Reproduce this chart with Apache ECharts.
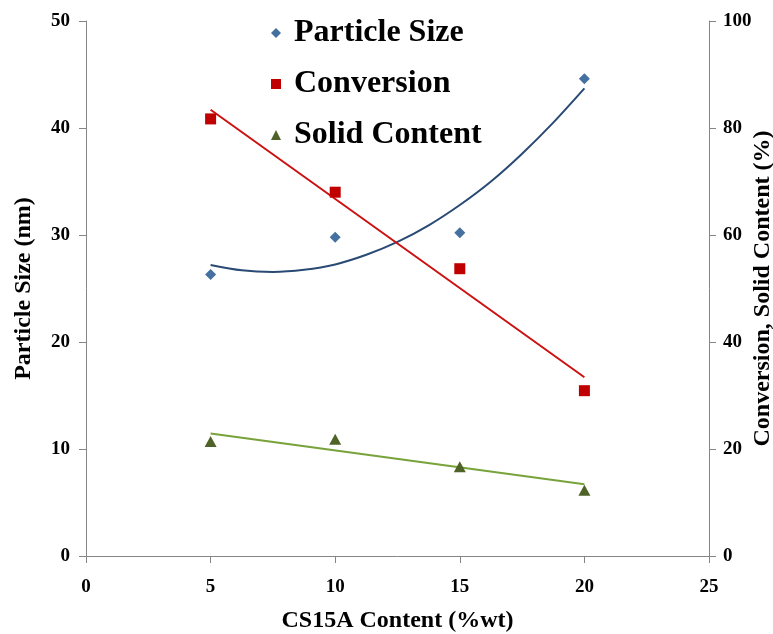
<!DOCTYPE html>
<html>
<head>
<meta charset="utf-8">
<script src="https://cdn.jsdelivr.net/npm/echarts@6/dist/echarts.min.js"></script>
<style>html,body{margin:0;padding:0;background:#fff}#c{width:773px;height:634px}</style>
</head>
<body>
<div id="c"></div>
<script>
// Data
const xValues = [5, 10, 15, 20];
const particleSize = [26.3, 29.8, 30.2, 44.6];      // nm, left axis
const conversion = [81.7, 68.0, 53.7, 30.9];         // %, right axis
const solidContent = [21.4, 21.8, 16.7, 12.3];       // %, right axis

// Trend lines as drawn in the picture
const particleTrendX = [5, 6.25, 7.5, 8.75, 10, 11.25, 12.5, 13.75, 15, 16.25, 17.5, 18.75, 20];
const particleTrendY = [27.2, 26.7, 26.55, 26.75, 27.25, 28.15, 29.35, 30.9, 32.8, 35.0, 37.6, 40.5, 43.7];
const conversionTrendX = [5, 20];
const conversionTrendY = [83.4, 33.4];
const solidTrendX = [5, 20];
const solidTrendY = [22.9, 13.4];

const xTicks = [0, 5, 10, 15, 20, 25];

const FONT = 'Liberation Serif';
const pair = (xs, ys) => xs.map((x, i) => [x, ys[i]]);
const axisLine = { show: true, lineStyle: { color: '#868686', width: 1 } };
const labelStyle = { color: '#000', fontFamily: FONT, fontWeight: 'bold', fontSize: 19 };
const nameStyle = { color: '#000', fontFamily: FONT, fontWeight: 'bold', fontSize: 24 };

const chart = echarts.init(document.getElementById('c'), null, { renderer: 'canvas' });
chart.setOption({
  animation: false,
  backgroundColor: '#fff',
  grid: { left: 86, right: 64, top: 21, bottom: 78, containLabel: false, outerBoundsMode: 'none' },
  legend: {
    data: ['Particle Size', 'Conversion', 'Solid Content'],
    orient: 'vertical',
    left: 266,
    top: 12,
    itemGap: 19,
    itemWidth: 10,
    itemHeight: 10,
    textStyle: { color: '#000', fontFamily: FONT, fontWeight: 'bold', fontSize: 32, padding: [0, 0, 0, 8] }
  },
  xAxis: {
    type: 'value', min: xTicks[0], max: xTicks[xTicks.length - 1], interval: 5,
    name: 'CS15A Content (%wt)', nameLocation: 'middle', nameGap: 53, nameTextStyle: nameStyle,
    nameMoveOverlap: false,
    axisLine: axisLine,
    axisTick: { show: true, length: 7, lineStyle: { color: '#868686' } },
    axisLabel: Object.assign({ margin: 22 }, labelStyle),
    splitLine: { show: false }
  },
  yAxis: [
    {
      type: 'value', min: 0, max: 50, interval: 10, position: 'left',
      name: 'Particle Size (nm)', nameLocation: 'middle', nameGap: 50, nameTextStyle: nameStyle,
      nameMoveOverlap: false,
      axisLine: axisLine,
      axisTick: { show: true, length: 7, lineStyle: { color: '#868686' } },
      axisLabel: Object.assign({ margin: 16 }, labelStyle),
      splitLine: { show: false }
    },
    {
      type: 'value', min: 0, max: 100, interval: 20, position: 'right',
      name: 'Conversion, Solid Content (%)', nameLocation: 'middle', nameGap: 42, nameTextStyle: nameStyle,
      nameMoveOverlap: false,
      axisLine: axisLine,
      axisTick: { show: true, length: 7, lineStyle: { color: '#868686' } },
      axisLabel: Object.assign({ margin: 14 }, labelStyle),
      splitLine: { show: false }
    }
  ],
  series: [
    {
      name: 'Particle Size trend', type: 'line', yAxisIndex: 0, data: pair(particleTrendX, particleTrendY),
      smooth: 0.3, showSymbol: false, symbol: 'none', lineStyle: { color: '#294A74', width: 2 }, z: 2, silent: true
    },
    {
      name: 'Conversion trend', type: 'line', yAxisIndex: 1, data: pair(conversionTrendX, conversionTrendY),
      showSymbol: false, symbol: 'none', lineStyle: { color: '#CC1111', width: 2 }, z: 2, silent: true
    },
    {
      name: 'Solid Content trend', type: 'line', yAxisIndex: 1, data: pair(solidTrendX, solidTrendY),
      showSymbol: false, symbol: 'none', lineStyle: { color: '#77A33A', width: 2 }, z: 2, silent: true
    },
    {
      name: 'Particle Size', type: 'scatter', yAxisIndex: 0, data: pair(xValues, particleSize),
      symbol: 'diamond', symbolSize: [11, 11], itemStyle: { color: '#44719F', opacity: 1 }, z: 3
    },
    {
      name: 'Conversion', type: 'scatter', yAxisIndex: 1, data: pair(xValues, conversion),
      symbol: 'rect', symbolSize: [11, 11], itemStyle: { color: '#C00000', opacity: 1 }, z: 3
    },
    {
      name: 'Solid Content', type: 'scatter', yAxisIndex: 1, data: pair(xValues, solidContent),
      symbol: 'triangle', symbolSize: [12, 11], itemStyle: { color: '#4F6228', opacity: 1 }, z: 3
    }
  ]
});
</script>
</body>
</html>
